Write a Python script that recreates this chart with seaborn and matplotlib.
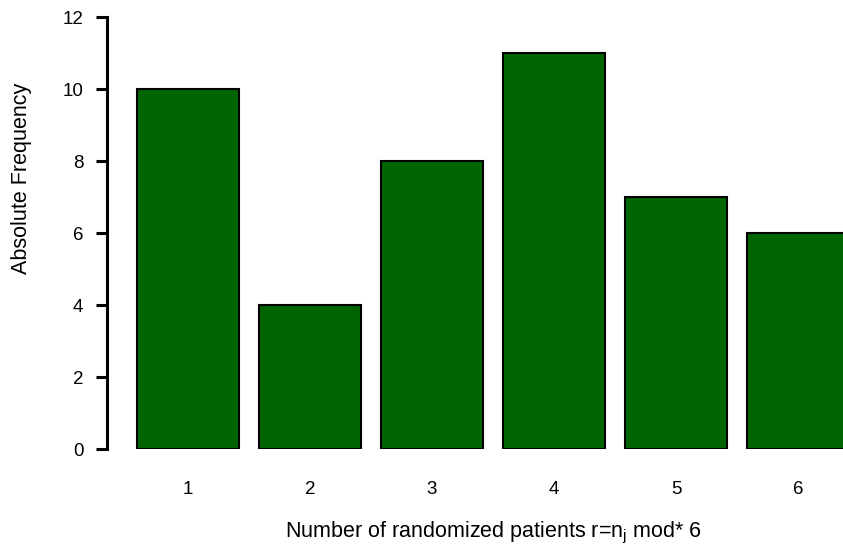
import matplotlib
matplotlib.use("Agg")
import matplotlib.pyplot as plt
import seaborn as sns
import pandas as pd

# values
residues = ["1", "2", "3", "4", "5", "6"]
freq = [10, 4, 8, 11, 7, 6]
y_ticks = [0, 2, 4, 6, 8, 10, 12]

df = pd.DataFrame({"r": residues, "freq": freq})

sns.set_style("white")
plt.rcParams["font.family"] = ["Liberation Sans", "DejaVu Sans"]
plt.rcParams["mathtext.default"] = "regular"
plt.rcParams["text.color"] = "black"
plt.rcParams["axes.labelcolor"] = "black"
plt.rcParams["xtick.color"] = "black"
plt.rcParams["ytick.color"] = "black"

fig = plt.figure(figsize=(8.43, 5.47), dpi=100)
ax = fig.add_axes([107 / 843, 98 / 547, 736 / 843, 432 / 547])

sns.barplot(data=df, x="r", y="freq", color="#006400", saturation=1,
            width=102 / 122, edgecolor="black", linewidth=1.5, ax=ax)

ax.set_xlim(-81 / 122, 655 / 122)
ax.set_ylim(0, 12)
ax.set_yticks(y_ticks)

for s in ["top", "right", "bottom"]:
    ax.spines[s].set_visible(False)
ax.spines["left"].set_linewidth(2.2)
ax.spines["left"].set_color("black")
ax.spines["left"].set_bounds(0, 12)

ax.tick_params(axis="y", length=8, width=2.2, color="black", pad=9,
               labelsize=13.5, labelcolor="black", left=True)
ax.tick_params(axis="x", length=0, pad=23, labelsize=13.5, labelcolor="black")

ax.set_xlabel("Number of randomized patients r=n$_j$ mod* 6", fontsize=15.5, color="black")
ax.set_ylabel("Absolute Frequency", fontsize=15.5, color="black")
ax.xaxis.set_label_coords((494 - 107) / 736, (449 - 533) / 432)
ax.xaxis.label.set_va("center")
ax.yaxis.set_label_coords((22 - 107) / 736, (449 - 178) / 432)
ax.yaxis.label.set_va("center")

fig.savefig("out.png", dpi=100)
